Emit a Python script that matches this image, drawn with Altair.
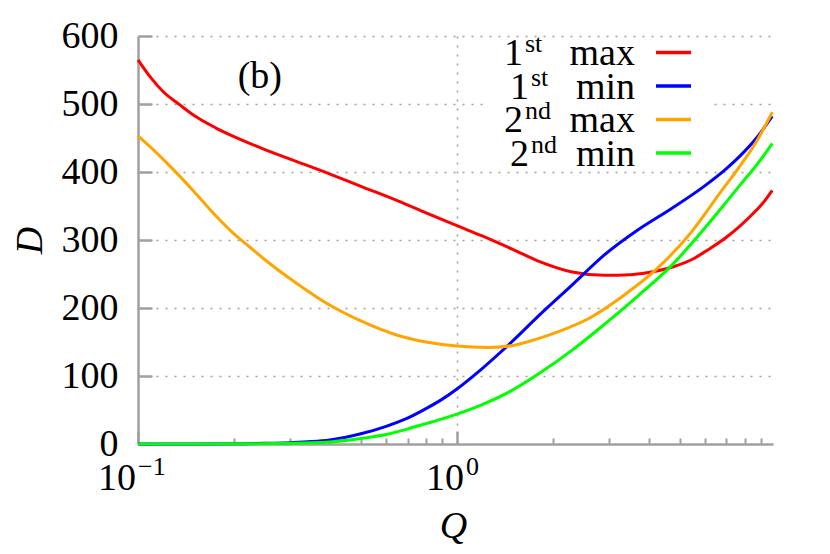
import altair as alt
import pandas as pd

# ---------------- data ----------------
series_names = ["1st max", "1st min", "2nd max", "2nd min"]
series_colors = ["#ff0000", "#0000ff", "#ffa500", "#00ff00"]

q_max1 = [0.10, 0.11, 0.12, 0.135, 0.15, 0.175, 0.20, 0.25, 0.30, 0.40, 0.50, 0.65, 0.80,
          1.00, 1.20, 1.50, 1.80, 2.30, 2.90, 3.50, 4.20, 4.80, 5.50, 6.10, 7.00, 7.70, 8.70, 9.10, 9.75]
d_max1 = [565, 538, 518, 499, 483, 465, 452, 433, 419, 397, 379, 358, 340,
          321, 306, 286, 269, 253, 248, 249, 254, 261, 272, 285, 304, 320, 344, 354, 373]

q_min1 = [0.10, 0.15, 0.20, 0.25, 0.30, 0.35, 0.40, 0.50, 0.60, 0.70, 0.80, 0.90,
          1.00, 1.20, 1.50, 1.80, 2.30, 2.90, 3.70, 4.70, 6.00, 7.00, 7.70, 8.70, 9.75]
d_min1 = [0, 0.1, 0.4, 1, 2, 3.5, 6, 15, 26, 38, 52, 66,
          81, 111, 152, 188, 234, 278, 315, 346, 380, 405, 423, 450, 482]

q_max2 = [0.10, 0.115, 0.13, 0.15, 0.175, 0.20, 0.225, 0.25, 0.30, 0.40, 0.50, 0.65, 0.80,
          1.00, 1.25, 1.50, 1.80, 2.10, 2.60, 3.30, 4.20, 5.40, 6.80, 7.70, 8.70, 9.75]
d_max2 = [453, 427, 402, 371, 336, 309, 289, 271, 243, 204, 181, 160, 150,
          144, 142, 145, 155, 166, 185, 217, 256, 310, 374, 408, 445, 488]

q_min2 = [0.10, 0.20, 0.30, 0.40, 0.50, 0.60, 0.70, 0.80, 0.90,
          1.00, 1.20, 1.45, 1.80, 2.30, 2.90, 3.70, 4.70, 6.00, 7.00, 7.70, 8.70, 9.75]
d_min2 = [0, 0.3, 1, 3, 8, 14, 22, 30, 37,
          44, 58, 76, 103, 138, 176, 218, 262, 318, 356, 380, 410, 442]

x_label_values = [0.1, 1.0]
x_label_base = ["10", "10"]
x_label_exp = ["\u22121", "0"]
x_minor_ticks = [0.2, 0.3, 0.4, 0.5, 0.6, 0.7, 0.8, 0.9, 2, 3, 4, 5, 6, 7, 8, 9]
y_tick_values = [0, 100, 200, 300, 400, 500, 600]

legend_nums = ["1", "1", "2", "2"]
legend_sups = ["st", "st", "nd", "nd"]
legend_words = ["max", "min", "max", "min"]

annot_q = [0.241]
annot_d = [523]
annot_text = ["(b)"]

# ---------------- layout / style ----------------
W, H = 635, 408
FONT = "Liberation Serif"
GRAY = "#a0a0a0"
FS = 38
FS_SUP = 26

frames = []
for name, qs, ds in zip(series_names, [q_max1, q_min1, q_max2, q_min2],
                        [d_max1, d_min1, d_max2, d_min2]):
    frames.append(pd.DataFrame({"Q": qs, "D": ds, "series": name}))
df = pd.concat(frames, ignore_index=True)

xscale = alt.Scale(type="log", domain=[0.1, 9.8], nice=False)
yscale = alt.Scale(domain=[0, 600], nice=False, zero=False)
cscale = alt.Scale(domain=series_names, range=series_colors)

lines = alt.Chart(df).mark_line(strokeWidth=3, interpolate="monotone").encode(
    x=alt.X("Q:Q", scale=xscale, axis=alt.Axis(
        orient="bottom", values=x_label_values, labels=False, ticks=False,
        domain=True, domainColor=GRAY, domainWidth=2.5,
        grid=True, gridColor=GRAY, gridWidth=1.6, gridDash=[2, 7],
        gridOpacity={"condition": {"test": "datum.value == 1", "value": 1}, "value": 0},
        title="Q", titleFont=FONT, titleFontSize=FS, titleFontStyle="italic",
        titleFontWeight="normal", titleColor="black",
        titleX=315, titleY=93, titleAlign="center", titleBaseline="alphabetic")),
    y=alt.Y("D:Q", scale=yscale, axis=alt.Axis(
        orient="left", values=y_tick_values, ticks=False,
        labelFont=FONT, labelFontSize=FS, labelColor="black", labelPadding=20,
        domain=True, domainColor=GRAY, domainWidth=2.5,
        grid=True, gridColor=GRAY, gridWidth=1.6, gridDash=[2, 7],
        gridOpacity={"condition": {"test": "datum.value > 0", "value": 1}, "value": 0},
        title="D", titleFont=FONT, titleFontSize=FS, titleFontStyle="italic",
        titleFontWeight="normal", titleColor="black",
        titleX=-108, titleY=H / 2, titleAngle=270, titleAlign="center",
        titleBaseline="middle")),
    color=alt.Color("series:N", scale=cscale, legend=None),
)

# inward-pointing ticks: axes placed on the opposite side and shifted back
minor_ticks = alt.Chart(df).mark_line(opacity=0).encode(
    x=alt.X("Q:Q", scale=xscale, axis=alt.Axis(
        orient="top", offset=-H, values=x_minor_ticks, tickSize=6, tickWidth=2,
        tickColor=GRAY, labels=False, domain=False, grid=False, title=None)),
    y=alt.Y("D:Q", scale=yscale, axis=alt.Axis(
        orient="right", offset=-W, values=y_tick_values, tickSize=14, tickWidth=2.5,
        tickColor=GRAY, labels=False, domain=False, grid=False, title=None)),
    detail="series:N",
)
major_ticks = alt.Chart(df).mark_line(opacity=0).encode(
    x=alt.X("Q:Q", scale=xscale, axis=alt.Axis(
        orient="top", offset=-H, values=x_label_values, tickSize=13, tickWidth=2.5,
        tickColor=GRAY, labels=False, domain=False, grid=False, title=None)),
    y=alt.Y("D:Q", scale=yscale, axis=None),
    detail="series:N",
)

layers = [lines, minor_ticks, major_ticks]

# x tick labels 10^-1 and 10^0
base_dx = [-2, 7]
exp_dx = [0, 9]
for i in range(len(x_label_values)):
    ldf = pd.DataFrame({"Q": [x_label_values[i]], "b": [x_label_base[i]], "e": [x_label_exp[i]]})
    layers.append(alt.Chart(ldf).mark_text(
        font=FONT, fontSize=FS, align="right", baseline="alphabetic", dx=base_dx[i], color="black"
    ).encode(x=alt.X("Q:Q", scale=xscale, axis=None), y=alt.value(H + 46), text="b:N"))
    layers.append(alt.Chart(ldf).mark_text(
        font=FONT, fontSize=FS_SUP, align="left", baseline="alphabetic", dx=exp_dx[i], color="black"
    ).encode(x=alt.X("Q:Q", scale=xscale, axis=None), y=alt.value(H + 31), text="e:N"))

# panel label
adf = pd.DataFrame({"Q": annot_q, "D": annot_d, "t": annot_text})
layers.append(alt.Chart(adf).mark_text(
    font=FONT, fontSize=FS, align="center", baseline="alphabetic", color="black"
).encode(x=alt.X("Q:Q", scale=xscale, axis=None), y=alt.Y("D:Q", scale=yscale, axis=None), text="t:N"))

# legend (key on the right of right-aligned labels)
box = alt.Chart(pd.DataFrame({"a": [0]})).mark_rect(fill="white").encode(
    x=alt.value(345), x2=alt.value(572), y=alt.value(3), y2=alt.value(133))
layers.append(box)

ROW0, STEP = 29, 33.5
WORD_RIGHT = 497
SUP_GAP = {"max": 110, "min": 104}
for i in range(len(series_names)):
    base_y = ROW0 + STEP * i
    sup_left = WORD_RIGHT - SUP_GAP[legend_words[i]]
    rdf = pd.DataFrame({"n": [legend_nums[i]], "s": [legend_sups[i]],
                        "w": [legend_words[i]], "series": [series_names[i]]})
    layers.append(alt.Chart(rdf).mark_text(
        font=FONT, fontSize=FS, align="right", baseline="alphabetic", color="black"
    ).encode(x=alt.value(WORD_RIGHT), y=alt.value(base_y), text="w:N"))
    layers.append(alt.Chart(rdf).mark_text(
        font=FONT, fontSize=FS_SUP, align="left", baseline="alphabetic", color="black"
    ).encode(x=alt.value(sup_left), y=alt.value(base_y - 13), text="s:N"))
    layers.append(alt.Chart(rdf).mark_text(
        font=FONT, fontSize=FS, align="right", baseline="alphabetic", color="black"
    ).encode(x=alt.value(sup_left - 2), y=alt.value(base_y), text="n:N"))
    layers.append(alt.Chart(rdf).mark_rule(strokeWidth=3.5).encode(
        x=alt.value(518), x2=alt.value(553), y=alt.value(base_y - 12.5),
        color=alt.Color("series:N", scale=cscale, legend=None)))

chart = alt.layer(*layers).resolve_axis(
    x="independent", y="independent"
).properties(
    width=W, height=H,
    padding={"left": 130, "top": 28, "right": 40, "bottom": 108},
    autosize=alt.AutoSizeParams(type="none"),
    background="white",
).configure_view(stroke=None)

chart.save("out.html", embed_options={"renderer": "svg", "actions": False})
